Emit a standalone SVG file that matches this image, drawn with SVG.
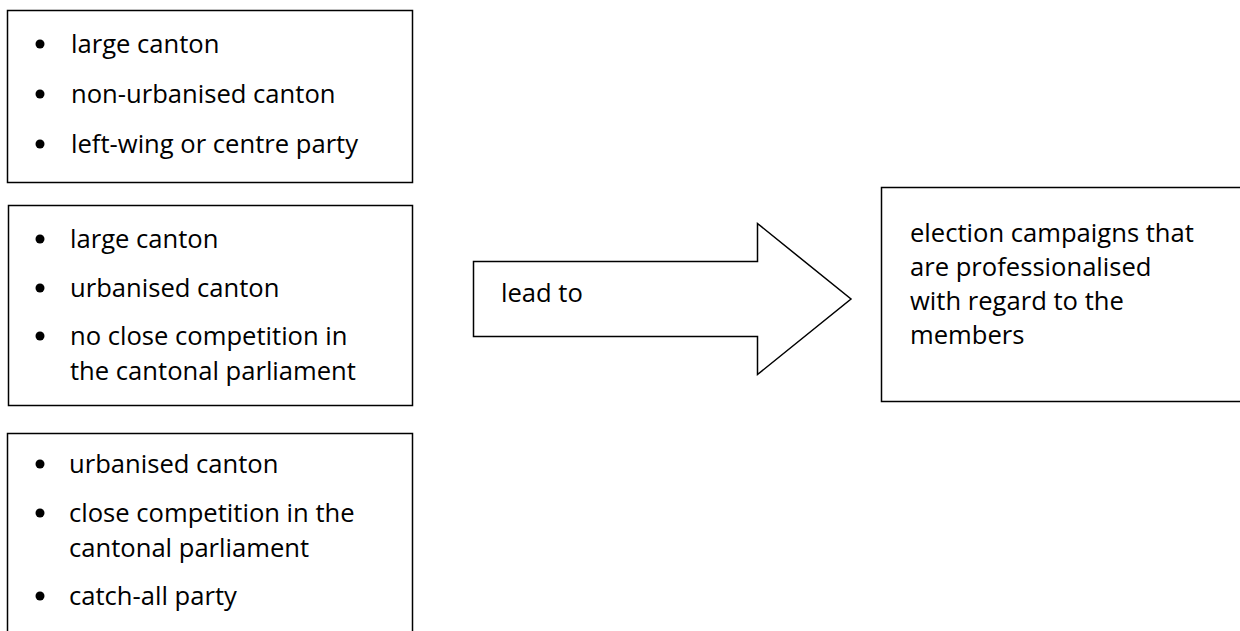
<svg xmlns="http://www.w3.org/2000/svg" width="1240" height="631" viewBox="0 0 1240 631">
  <style>
    .box { fill: #ffffff; stroke: #000000; stroke-width: 1.5; }
    .t { font-family: "Open Sans", "Liberation Sans", sans-serif; font-size: 25.6px; fill: #000000; font-variant-ligatures: none; }
    .dot { fill: #000000; }
  </style>
  <rect x="0" y="0" width="1240" height="631" fill="#ffffff"/>
  <g id="node-conditions-1">
    <rect class="box" x="7.5" y="10.5" width="405" height="172"/>
    <circle class="dot" cx="40" cy="44" r="4.5"/>
    <text class="t" x="71" y="53">large canton</text>
    <circle class="dot" cx="40" cy="94" r="4.5"/>
    <text class="t" x="71" y="103">non-urbanised canton</text>
    <circle class="dot" cx="40" cy="144" r="4.5"/>
    <text class="t" x="71" y="153">left-wing or centre party</text>
  </g>
  <g id="node-conditions-2">
    <rect class="box" x="8.5" y="205.5" width="404" height="200"/>
    <circle class="dot" cx="40" cy="239" r="4.5"/>
    <text class="t" x="70" y="248">large canton</text>
    <circle class="dot" cx="40" cy="288" r="4.5"/>
    <text class="t" x="70" y="297">urbanised canton</text>
    <circle class="dot" cx="40" cy="336" r="4.5"/>
    <text class="t" x="70" y="345">no close competition in</text>
    <text class="t" x="70" y="380">the cantonal parliament</text>
  </g>
  <g id="node-conditions-3">
    <rect class="box" x="7.5" y="433.5" width="405" height="250"/>
    <circle class="dot" cx="40" cy="464" r="4.5"/>
    <text class="t" x="69" y="473">urbanised canton</text>
    <circle class="dot" cx="40" cy="513" r="4.5"/>
    <text class="t" x="69" y="522">close competition in the</text>
    <text class="t" x="69" y="557">cantonal parliament</text>
    <circle class="dot" cx="40" cy="596" r="4.5"/>
    <text class="t" x="69" y="605">catch-all party</text>
  </g>
  <g id="connectors">
    <polygon class="box" points="473.5,261.5 757.5,261.5 757.5,223.5 851,299 757.5,374.5 757.5,336.5 473.5,336.5"/>
    <text class="t" x="501" y="302">lead to</text>
  </g>
  <g id="node-outcome">
    <rect class="box" x="881.5" y="187.5" width="400" height="214"/>
    <text class="t" x="910" y="242">election campaigns that</text>
    <text class="t" x="910" y="276">are professionalised</text>
    <text class="t" x="910" y="310">with regard to the</text>
    <text class="t" x="910" y="344">members</text>
  </g>
</svg>
